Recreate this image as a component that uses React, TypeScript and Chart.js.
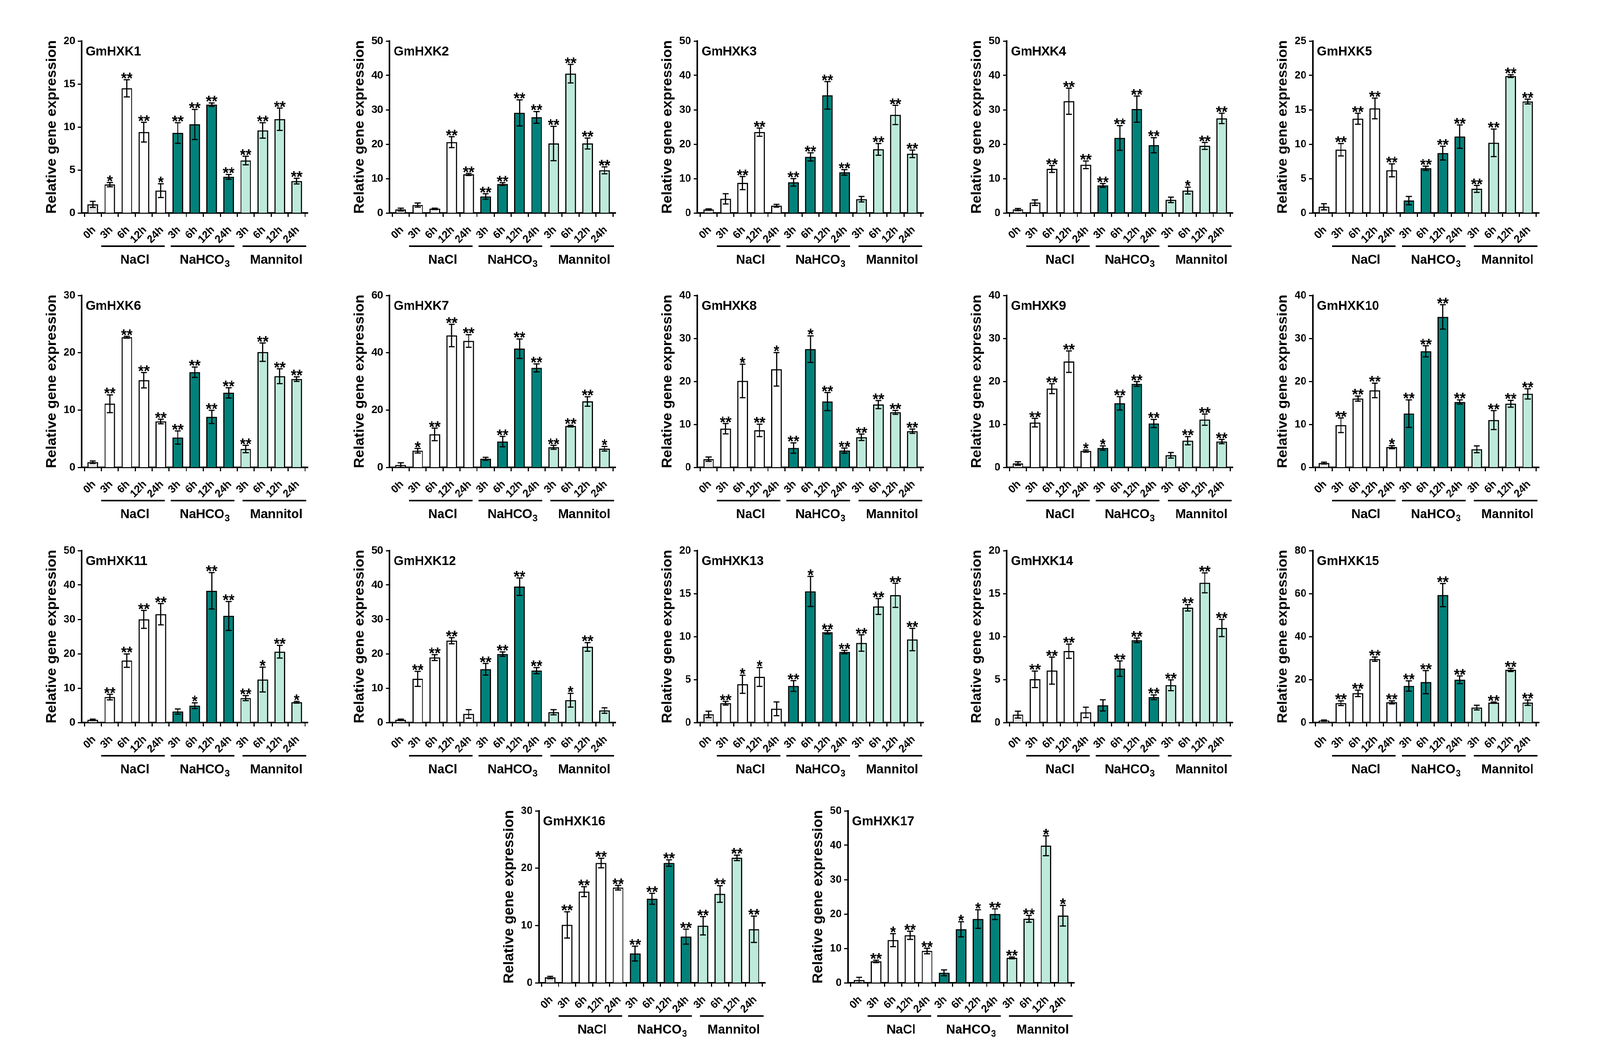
import React, { useEffect, useRef } from 'react';
import { Chart, registerables } from 'chart.js';

Chart.register(...registerables);

// ---------- data ----------
const timeLabels = ['0h', '3h', '6h', '12h', '24h', '3h', '6h', '12h', '24h', '3h', '6h', '12h', '24h'];
const treatmentLabels = ['NaCl', 'NaHCO3', 'Mannitol'];
const yAxisTitle = 'Relative gene expression';

const hxk1Mean = [1.0, 3.3, 14.5, 9.4, 2.6, 9.3, 10.3, 12.6, 4.2, 6.1, 9.6, 10.9, 3.7];
const hxk1Err = [0.35, 0.25, 1.0, 1.15, 0.8, 1.2, 1.75, 0.2, 0.28, 0.5, 0.9, 1.3, 0.33];
const hxk1Sig = ['', '*', '**', '**', '*', '**', '**', '**', '**', '**', '**', '**', '**'];

const hxk2Mean = [1.0, 2.3, 1.2, 20.6, 11.2, 4.8, 8.4, 29.1, 27.8, 20.2, 40.5, 20.2, 12.4];
const hxk2Err = [0.4, 0.6, 0.2, 1.6, 0.3, 0.8, 0.4, 3.8, 1.7, 5.0, 2.7, 1.6, 1.0];
const hxk2Sig = ['', '', '', '**', '**', '**', '**', '**', '**', '**', '**', '**', '**'];

const hxk3Mean = [1.0, 4.1, 8.7, 23.5, 2.1, 8.9, 16.3, 34.2, 11.8, 4.0, 18.5, 28.5, 17.2];
const hxk3Err = [0.2, 1.5, 1.9, 1.2, 0.4, 1.1, 1.2, 4.0, 0.8, 0.8, 1.7, 2.8, 1.1];
const hxk3Sig = ['', '', '**', '**', '', '**', '**', '**', '**', '', '**', '**', '**'];

const hxk4Mean = [1.0, 3.0, 12.8, 32.5, 14.0, 8.0, 21.8, 30.2, 19.7, 3.8, 6.5, 19.5, 27.5];
const hxk4Err = [0.3, 0.8, 1.0, 3.8, 1.1, 0.55, 3.6, 3.8, 2.2, 0.8, 1.0, 1.0, 1.5];
const hxk4Sig = ['', '', '**', '**', '**', '**', '**', '**', '**', '', '*', '**', '**'];

const hxk5Mean = [0.9, 9.2, 13.7, 15.2, 6.2, 1.8, 6.5, 8.7, 11.1, 3.5, 10.2, 19.9, 16.2];
const hxk5Err = [0.45, 0.9, 0.8, 1.5, 0.95, 0.6, 0.3, 1.0, 1.7, 0.5, 2.0, 0.2, 0.35];
const hxk5Sig = ['', '**', '**', '**', '**', '', '**', '**', '**', '**', '**', '**', '**'];

const hxk6Mean = [0.9, 11.1, 22.7, 15.2, 8.0, 5.2, 16.6, 8.8, 13.0, 3.2, 20.1, 15.9, 15.4];
const hxk6Err = [0.2, 1.55, 0.15, 1.35, 0.4, 1.15, 0.9, 1.15, 0.9, 0.65, 1.6, 1.3, 0.4];
const hxk6Sig = ['', '**', '**', '**', '**', '**', '**', '**', '**', '**', '**', '**', '**'];

const hxk7Mean = [0.8, 5.8, 11.5, 46.0, 44.1, 3.0, 9.0, 41.4, 34.7, 7.0, 14.4, 23.0, 6.5];
const hxk7Err = [0.8, 0.8, 2.2, 3.9, 2.2, 0.5, 1.8, 3.4, 1.4, 0.7, 0.3, 1.65, 0.8];
const hxk7Sig = ['', '*', '**', '**', '**', '', '**', '**', '**', '**', '**', '**', '*'];

const hxk8Mean = [1.9, 9.0, 20.1, 8.6, 22.8, 4.5, 27.5, 15.3, 3.9, 7.0, 14.6, 12.8, 8.4];
const hxk8Err = [0.5, 1.2, 3.9, 1.45, 3.9, 1.2, 3.1, 2.1, 0.6, 0.75, 0.95, 0.45, 0.5];
const hxk8Sig = ['', '**', '*', '**', '*', '**', '*', '**', '**', '**', '**', '**', '**'];

const hxk9Mean = [0.9, 10.4, 18.3, 24.6, 3.8, 4.5, 14.9, 19.4, 10.2, 2.8, 6.2, 11.1, 6.0];
const hxk9Err = [0.4, 1.0, 1.15, 2.5, 0.25, 0.5, 1.55, 0.55, 0.95, 0.65, 0.95, 1.3, 0.5];
const hxk9Sig = ['', '**', '**', '**', '*', '*', '**', '**', '**', '', '**', '**', '**'];

const hxk10Mean = [1.0, 9.8, 16.0, 17.9, 4.7, 12.5, 27.0, 35.0, 15.2, 4.2, 11.0, 14.8, 17.1];
const hxk10Err = [0.2, 1.7, 0.6, 1.7, 0.35, 3.2, 1.3, 2.85, 0.5, 0.8, 2.2, 0.8, 1.2];
const hxk10Sig = ['', '**', '**', '**', '*', '**', '**', '**', '**', '', '**', '**', '**'];

const hxk11Mean = [0.8, 7.4, 18.0, 30.0, 31.5, 3.2, 4.9, 38.3, 31.0, 7.1, 12.5, 20.6, 5.9];
const hxk11Err = [0.2, 0.8, 1.95, 2.6, 3.1, 0.75, 0.85, 5.3, 4.2, 0.75, 3.6, 1.85, 0.25];
const hxk11Sig = ['', '**', '**', '**', '**', '', '*', '**', '**', '**', '*', '**', '*'];

const hxk12Mean = [0.8, 12.7, 18.9, 23.8, 2.5, 15.5, 19.9, 39.5, 15.1, 3.0, 6.5, 22.0, 3.5];
const hxk12Err = [0.2, 2.2, 0.85, 0.9, 1.25, 1.7, 0.65, 2.55, 0.9, 0.75, 2.0, 1.25, 0.8];
const hxk12Sig = ['', '**', '**', '**', '', '**', '**', '**', '**', '', '*', '**', ''];

const hxk13Mean = [0.95, 2.25, 4.45, 5.3, 1.6, 4.25, 15.25, 10.5, 8.2, 9.25, 13.5, 14.8, 9.65];
const hxk13Err = [0.37, 0.22, 1.05, 1.1, 0.8, 0.62, 1.75, 0.2, 0.2, 0.95, 0.92, 1.4, 1.3];
const hxk13Sig = ['', '**', '*', '*', '', '**', '*', '**', '**', '**', '**', '**', '**'];

const hxk14Mean = [0.92, 5.03, 6.04, 8.3, 1.18, 2.0, 6.27, 9.56, 2.94, 4.34, 13.35, 16.25, 11.0];
const hxk14Err = [0.4, 0.96, 1.57, 0.83, 0.6, 0.65, 0.9, 0.27, 0.28, 0.63, 0.37, 1.16, 1.0];
const hxk14Sig = ['', '**', '**', '**', '', '', '**', '**', '**', '**', '**', '**', '**'];

const hxk15Mean = [0.9, 9.0, 13.6, 29.5, 9.4, 17.0, 18.8, 59.3, 19.9, 6.95, 9.24, 24.5, 9.24];
const hxk15Err = [0.3, 1.1, 1.5, 1.0, 0.7, 2.4, 5.4, 5.4, 1.8, 1.1, 0.3, 0.75, 1.25];
const hxk15Sig = ['', '**', '**', '**', '**', '**', '**', '**', '**', '', '**', '**', '**'];

const hxk16Mean = [0.93, 10.1, 15.9, 20.9, 16.6, 5.1, 14.66, 20.9, 8.05, 9.95, 15.5, 21.8, 9.34];
const hxk16Err = [0.2, 2.3, 0.87, 0.84, 0.4, 1.3, 0.95, 0.56, 1.3, 1.6, 1.45, 0.48, 2.3];
const hxk16Sig = ['', '**', '**', '**', '**', '**', '**', '**', '**', '**', '**', '**', '**'];

const hxk17Mean = [0.8, 6.2, 12.4, 13.8, 9.25, 2.9, 15.56, 18.55, 19.95, 7.24, 18.6, 39.86, 19.5];
const hxk17Err = [0.8, 0.35, 1.9, 1.2, 0.8, 0.85, 2.2, 2.7, 1.55, 0.25, 1.0, 2.9, 3.0];
const hxk17Sig = ['', '**', '*', '**', '**', '', '*', '*', '**', '**', '**', '*', '*'];

const geneNames = [
  'GmHXK1', 'GmHXK2', 'GmHXK3', 'GmHXK4', 'GmHXK5', 'GmHXK6', 'GmHXK7', 'GmHXK8', 'GmHXK9',
  'GmHXK10', 'GmHXK11', 'GmHXK12', 'GmHXK13', 'GmHXK14', 'GmHXK15', 'GmHXK16', 'GmHXK17',
];
const yMaxes = [20, 50, 50, 50, 25, 30, 60, 40, 40, 40, 50, 50, 20, 20, 80, 30, 50];
const ySteps = [5, 10, 10, 10, 5, 10, 20, 10, 10, 10, 10, 10, 5, 5, 20, 10, 10];

const allMeans = [hxk1Mean, hxk2Mean, hxk3Mean, hxk4Mean, hxk5Mean, hxk6Mean, hxk7Mean, hxk8Mean, hxk9Mean,
  hxk10Mean, hxk11Mean, hxk12Mean, hxk13Mean, hxk14Mean, hxk15Mean, hxk16Mean, hxk17Mean];
const allErrs = [hxk1Err, hxk2Err, hxk3Err, hxk4Err, hxk5Err, hxk6Err, hxk7Err, hxk8Err, hxk9Err,
  hxk10Err, hxk11Err, hxk12Err, hxk13Err, hxk14Err, hxk15Err, hxk16Err, hxk17Err];
const allSigs = [hxk1Sig, hxk2Sig, hxk3Sig, hxk4Sig, hxk5Sig, hxk6Sig, hxk7Sig, hxk8Sig, hxk9Sig,
  hxk10Sig, hxk11Sig, hxk12Sig, hxk13Sig, hxk14Sig, hxk15Sig, hxk16Sig, hxk17Sig];

// ---------- layout & style ----------
const DESIGN_W = 4272;
const DESIGN_H = 2710;
const FONT = "'Liberation Sans', Arial, Helvetica, sans-serif";
const COLOR_CTRL = '#e4e4e4';
const COLOR_NACL = '#ffffff';
const COLOR_NAHCO3 = '#00827a';
const COLOR_MANNITOL = '#bdeadb';
const barColors = timeLabels.map((_, i) =>
  i === 0 ? COLOR_CTRL : i <= 4 ? COLOR_NACL : i <= 8 ? COLOR_NAHCO3 : COLOR_MANNITOL);

const CANVAS_W = 774;
const CANVAS_H = 640;
const AXIS_LEFT = 150;
const AREA_TOP = 40;
const AREA_H = 440;
const AREA_W = 604;

const colX = [218, 1040, 1862, 2688, 3505];
const rowZero = [545, 1196, 1849];
const lastRowX = [1439, 2264];
const lastRowZero = 2515;

const groupSpans = [[0.49, 4.23], [4.59, 8.34], [8.82, 12.57]];

function panelPos(k: number) {
  if (k < 15) {
    const r = Math.floor(k / 5);
    const c = k % 5;
    return { ax: colX[c], zero: rowZero[r] };
  }
  return { ax: lastRowX[k - 15], zero: lastRowZero };
}

function drawLabelWithSub(ctx: CanvasRenderingContext2D, text: string, cx: number, y: number) {
  const m = text.match(/^(.*?)(\d+)$/);
  const mainFont = `bold 34px ${FONT}`;
  const subFont = `bold 24px ${FONT}`;
  ctx.textAlign = 'left';
  ctx.textBaseline = 'alphabetic';
  if (!m) {
    ctx.font = mainFont;
    const w = ctx.measureText(text).width;
    ctx.fillText(text, cx - w / 2, y);
    return;
  }
  ctx.font = mainFont;
  const w1 = ctx.measureText(m[1]).width;
  ctx.font = subFont;
  const w2 = ctx.measureText(m[2]).width;
  const x0 = cx - (w1 + w2) / 2;
  ctx.font = mainFont;
  ctx.fillText(m[1], x0, y);
  ctx.font = subFont;
  ctx.fillText(m[2], x0 + w1 + 1, y + 8);
}

const decorPlugin = {
  id: 'decor',
  afterDatasetsDraw(chart: any, _args: any, opts: any) {
    const { ctx } = chart;
    const x = chart.scales.x;
    const y = chart.scales.y;
    const mean: number[] = opts.mean;
    const err: number[] = opts.err;
    const sig: string[] = opts.sig;
    ctx.save();
    ctx.strokeStyle = '#000';
    ctx.fillStyle = '#000';
    ctx.lineWidth = 3;
    mean.forEach((m, i) => {
      const cx = x.getPixelForValue(i);
      const top = y.getPixelForValue(m + err[i]);
      const bot = y.getPixelForValue(Math.max(0, m - err[i]));
      ctx.beginPath();
      ctx.moveTo(cx, top);
      ctx.lineTo(cx, bot);
      ctx.moveTo(cx - 8, top);
      ctx.lineTo(cx + 8, top);
      ctx.moveTo(cx - 8, bot);
      ctx.lineTo(cx + 8, bot);
      ctx.stroke();
      if (sig[i]) {
        ctx.font = `bold 40px ${FONT}`;
        ctx.textAlign = 'center';
        ctx.textBaseline = 'alphabetic';
        const mt = ctx.measureText(sig[i]);
        ctx.fillText(sig[i], cx, top - 2 - mt.actualBoundingBoxDescent);
      }
    });
    ctx.restore();
  },
  afterDraw(chart: any, _args: any, opts: any) {
    const { ctx, chartArea } = chart;
    const x = chart.scales.x;
    ctx.save();
    ctx.fillStyle = '#000';
    ctx.strokeStyle = '#000';
    ctx.font = `bold 34px ${FONT}`;
    ctx.textAlign = 'left';
    ctx.textBaseline = 'alphabetic';
    ctx.fillText(opts.gene, chartArea.left + 11, chartArea.top + 37);
    ctx.save();
    ctx.translate(chartArea.left - 69, (chartArea.top + chartArea.bottom) / 2);
    ctx.rotate(-Math.PI / 2);
    ctx.font = `bold 37px ${FONT}`;
    ctx.textAlign = 'center';
    ctx.fillText(yAxisTitle, 0, 0);
    ctx.restore();
    const lineY = chartArea.bottom + 85;
    ctx.lineWidth = 4;
    groupSpans.forEach((span, g) => {
      const x1 = x.getPixelForValue(span[0]);
      const x2 = x.getPixelForValue(span[1]);
      ctx.beginPath();
      ctx.moveTo(x1, lineY);
      ctx.lineTo(x2, lineY);
      ctx.stroke();
      drawLabelWithSub(ctx, treatmentLabels[g], (x1 + x2) / 2 + 5, chartArea.bottom + 130);
    });
    ctx.restore();
  },
};

function Panel({ k }: { k: number }) {
  const ref = useRef<HTMLCanvasElement | null>(null);
  const { ax, zero } = panelPos(k);
  useEffect(() => {
    if (!ref.current) return;
    const mean = allMeans[k];
    const tickFont = { family: FONT, weight: 'bold' as const, size: 28 };
    const chart = new Chart(ref.current, {
      type: 'bar',
      data: {
        datasets: [
          {
            data: mean.map((v, i) => ({ x: i, y: v })),
            backgroundColor: barColors,
            borderColor: '#000',
            borderWidth: 3,
            barThickness: 28,
            borderSkipped: 'bottom',
          } as any,
        ],
      },
      options: {
        animation: false,
        responsive: false,
        devicePixelRatio: 1,
        layout: { padding: { left: 0, top: AREA_TOP, right: CANVAS_W - AXIS_LEFT - AREA_W, bottom: 0 } },
        plugins: {
          legend: { display: false },
          tooltip: { enabled: false },
          title: { display: false },
          decor: { mean, err: allErrs[k], sig: allSigs[k], gene: geneNames[k] },
        } as any,
        scales: {
          x: {
            type: 'linear',
            min: -0.66,
            max: 12.66,
            offset: false,
            afterFit: (s: any) => { s.height = CANVAS_H - AREA_TOP - AREA_H; },
            grid: { display: true, drawOnChartArea: false, drawTicks: true, tickLength: 10, tickWidth: 3, tickColor: '#000' },
            border: { display: true, color: '#000', width: 4 },
            ticks: {
              stepSize: 1,
              includeBounds: false,
              autoSkip: false,
              minRotation: 45,
              maxRotation: 45,
              padding: 17,
              labelOffset: 3,
              color: '#000',
              font: tickFont,
              callback: (v: any) => timeLabels[v as number] ?? '',
            },
          } as any,
          y: {
            min: 0,
            max: yMaxes[k],
            afterFit: (s: any) => { s.width = AXIS_LEFT; },
            grid: { display: true, drawOnChartArea: false, drawTicks: true, tickLength: 10, tickWidth: 3, tickColor: '#000' },
            border: { display: true, color: '#000', width: 4 },
            ticks: { stepSize: ySteps[k], padding: 7, color: '#000', font: tickFont },
          } as any,
        },
      },
      plugins: [decorPlugin as any],
    });
    return () => chart.destroy();
  }, [k]);
  return (
    <canvas
      ref={ref}
      width={CANVAS_W}
      height={CANVAS_H}
      style={{ position: 'absolute', left: ax - AXIS_LEFT, top: zero - AREA_H - AREA_TOP, width: CANVAS_W, height: CANVAS_H }}
    />
  );
}

export default function App() {
  const vw = typeof window !== 'undefined' && window.innerWidth ? window.innerWidth : DESIGN_W;
  const vh = typeof window !== 'undefined' && window.innerHeight ? window.innerHeight : DESIGN_H;
  const sx = vw / DESIGN_W;
  const sy = vh / DESIGN_H;
  return (
    <div style={{ position: 'absolute', left: 0, top: 0, width: vw, height: vh, overflow: 'hidden', background: '#fff' }}>
      <div
        style={{
          position: 'absolute',
          left: 0,
          top: 0,
          width: DESIGN_W,
          height: DESIGN_H,
          background: '#fff',
          transform: `scale(${sx}, ${sy})`,
          transformOrigin: '0 0',
        }}
      >
        {geneNames.map((_, k) => (
          <Panel key={k} k={k} />
        ))}
      </div>
    </div>
  );
}
